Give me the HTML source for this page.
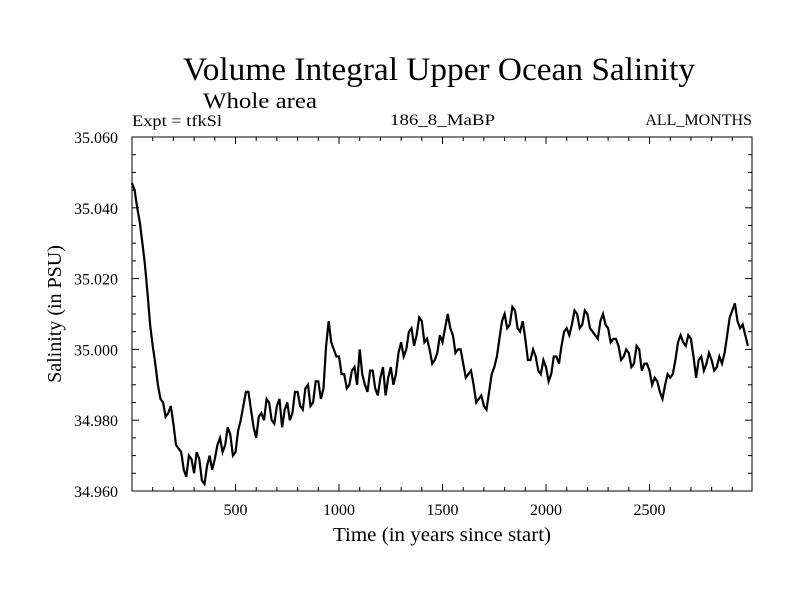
<!DOCTYPE html>
<html><head><meta charset="utf-8"><style>
html,body{margin:0;padding:0;background:#fff;}
svg{display:block;font-family:"Liberation Serif",serif;}
</style></head><body>
<svg id="chart" width="800" height="600" viewBox="0 0 800 600" xmlns="http://www.w3.org/2000/svg">
<rect width="800" height="600" fill="#fff"/>
<text x="439" y="80" font-size="33" text-anchor="middle" textLength="512" lengthAdjust="spacingAndGlyphs">Volume Integral Upper Ocean Salinity</text>
<text x="203" y="108" font-size="22" textLength="114" lengthAdjust="spacingAndGlyphs">Whole area</text>
<text x="132" y="126" font-size="16" textLength="90" lengthAdjust="spacingAndGlyphs">Expt = tfkSl</text>
<text x="390" y="125" font-size="16" textLength="105" lengthAdjust="spacingAndGlyphs">186_8_MaBP</text>
<text x="752" y="125" font-size="16" text-anchor="end">ALL_MONTHS</text>
<text x="442" y="541" font-size="20" text-anchor="middle" textLength="218" lengthAdjust="spacingAndGlyphs">Time (in years since start)</text>
<text transform="translate(61,314) rotate(-90)" font-size="20" text-anchor="middle">Salinity (in PSU)</text>
<g id="axes"></g>
<g id="series"></g>
<rect x="132" y="137" width="620" height="354" fill="none" stroke="#000" stroke-width="1"/>
</svg>
<script>
const startYear = 0;
const yearStep = 25;
const salinity = [35.047,35.040,35.030,35.016,35.001,34.990,34.985,34.982,34.979,34.972,34.966,34.970,34.965,34.969,34.962,34.970,34.969,34.975,34.973,34.976,34.971,34.980,34.988,34.983,34.975,34.982,34.986,34.980,34.984,34.978,34.985,34.982,34.988,34.983,34.990,34.985,34.991,34.989,35.008,35.000,34.998,34.993,34.990,34.995,35.000,34.990,34.994,34.989,34.992,34.987,34.995,34.993,35.002,35.000,35.006,35.004,35.008,35.003,34.996,34.999,35.002,35.010,35.004,35.000,34.996,34.993,34.990,34.986,34.984,34.988,34.995,35.003,35.010,35.007,35.011,35.005,35.003,34.997,34.998,34.993,34.995,34.993,34.998,35.001,35.006,35.007,35.010,35.007,35.010,35.005,35.003,35.010,35.006,35.003,35.001,34.998,34.999,34.996,35.000,34.996,34.994,34.992,34.988,34.990,34.992,34.997,35.004,35.001,35.003,34.992,34.998,34.996,34.997,34.995,34.996,35.004,35.011,35.008,35.007,35.001];
const salinityMid = [35.045,35.036,35.024,35.007,34.996,34.986,34.981,34.984,34.973,34.971,34.964,34.969,34.971,34.963,34.967,34.966,34.973,34.971,34.978,34.970,34.977,34.984,34.988,34.978,34.981,34.980,34.985,34.979,34.986,34.983,34.980,34.988,34.984,34.989,34.984,34.991,34.986,35.001,35.002,34.998,34.993,34.989,34.994,34.990,34.993,34.988,34.994,34.987,34.995,34.992,34.990,34.999,34.998,35.005,35.001,35.009,35.002,35.000,34.997,35.004,35.006,35.006,34.999,35.000,34.992,34.994,34.985,34.987,34.983,34.993,34.998,35.008,35.006,35.012,35.006,35.008,34.997,35.000,34.994,34.997,34.991,34.998,34.996,35.005,35.004,35.011,35.006,35.011,35.006,35.004,35.008,35.007,35.002,35.003,34.997,35.000,34.995,35.001,34.994,34.996,34.990,34.991,34.986,34.993,34.993,35.002,35.002,35.004,34.998,34.997,34.994,34.999,34.994,34.998,34.999,35.009,35.013,35.006,35.004];
const xTickValues = [500,1000,1500,2000,2500];
const yTickValues = [34.960,34.980,35.000,35.020,35.040,35.060];
const yTickLabels = ["34.960","34.980","35.000","35.020","35.040","35.060"];

const X0=132,X1=752,Y0=491,Y1=137;
const xMin=0,xMax=2995,yMin=34.96,yMax=35.06;
function xs(v){return X0+(v-xMin)/(xMax-xMin)*(X1-X0);}
function ys(v){return Y0-(v-yMin)/(yMax-yMin)*(Y0-Y1);}
const NS="http://www.w3.org/2000/svg";
const axes=document.getElementById('axes');
function line(x1,y1,x2,y2,name){
  const l=document.createElementNS(NS,'line');
  l.setAttribute('x1',x1);l.setAttribute('y1',y1);l.setAttribute('x2',x2);l.setAttribute('y2',y2);
  l.setAttribute('stroke','#000');l.setAttribute('stroke-width','1');
  
  
  axes.appendChild(l);
}
for(let v=100; v<xMax; v+=100){
  const x=xs(v), major=(v%500===0), len=major?7:4;
  line(x,Y0,x,Y0-len,'x-tick');
  line(x,Y1,x,Y1+len,'x-tick-top');
}
for(let i=0;i<=20;i++){
  const v=yMin+i*0.005, y=ys(v), major=(i%4===0), len=major?7:4;
  line(X0,y,X0+len,y,'y-tick');
  line(X1,y,X1-len,y,'y-tick-right');
}
xTickValues.forEach(v=>{
  const t=document.createElementNS(NS,'text');
  t.setAttribute('x',xs(v));t.setAttribute('y',515);t.setAttribute('font-size','16');t.setAttribute('text-anchor','middle');
  t.textContent=String(v);
  
  
  axes.appendChild(t);
});
yTickValues.forEach((v,i)=>{
  const t=document.createElementNS(NS,'text');
  t.setAttribute('x',118);t.setAttribute('y',ys(v)+6);t.setAttribute('font-size','16');t.setAttribute('text-anchor','end');
  t.textContent=yTickLabels[i];
  
  
  axes.appendChild(t);
});
const pts=[];
salinity.forEach((v,i)=>{
  const yr=Math.min(startYear+i*yearStep,xMax);
  pts.push(xs(yr).toFixed(1)+','+ys(v).toFixed(1));
  if(i<salinityMid.length){
    const ym=Math.min(startYear+i*yearStep+yearStep/2,xMax);
    pts.push(xs(ym).toFixed(1)+','+ys(salinityMid[i]).toFixed(1));
  }
});
const p=document.createElementNS(NS,'polyline');
p.setAttribute('points',pts.join(' '));
p.setAttribute('fill','none');p.setAttribute('stroke','#000');p.setAttribute('stroke-width','2.2');p.setAttribute('stroke-linejoin','miter');


document.getElementById('series').appendChild(p);
</script>
</body></html>
